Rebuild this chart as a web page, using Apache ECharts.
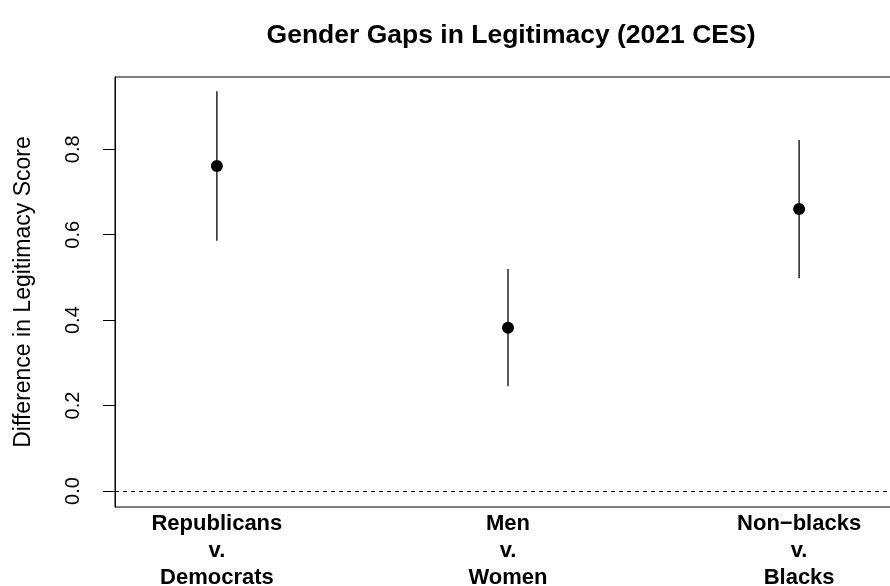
<!DOCTYPE html>
<html>
<head>
<meta charset="utf-8">
<script src="https://cdn.jsdelivr.net/npm/echarts@6/dist/echarts.min.js"></script>
<style>
  html, body { margin: 0; padding: 0; background: #fff; }
  #chart { width: 890px; height: 586px; }
</style>
</head>
<body>
<div id="chart"></div>
<script>
// Group comparisons and their estimated gaps with 95% intervals
const groups = ['Republicans\nv.\nDemocrats', 'Men\nv.\nWomen', 'Non\u2212blacks\nv.\nBlacks'];
const positions = [1, 2, 3];
const estimates = [0.761, 0.382, 0.660];
const lower = [0.586, 0.245, 0.498];
const upper = [0.936, 0.520, 0.822];
const yTicks = [0, 0.2, 0.4, 0.6, 0.8];

const FONT = '"Liberation Sans", Arial, Helvetica, sans-serif';

const pointData = positions.map((x, i) => [x, estimates[i]]);
const barData = positions.map((x, i) => [x, lower[i], upper[i]]);

const chart = echarts.init(document.getElementById('chart'), null, { renderer: 'canvas' });

chart.setOption({
  backgroundColor: '#ffffff',
  animation: false,
  title: {
    text: 'Gender Gaps in Legitimacy (2021 CES)',
    left: 506,
    top: 17,
    textAlign: 'center',
    textStyle: { fontFamily: FONT, fontWeight: 'bold', fontSize: 26.5, color: '#000' }
  },
  grid: {
    left: 115,
    top: 77,
    width: 786,
    height: 430,
    outerBoundsMode: 'none',
    containLabel: false,
    show: true,
    borderColor: '#000',
    borderWidth: 1,
    backgroundColor: 'transparent'
  },
  xAxis: {
    type: 'value',
    min: 0.65,
    max: 3.35,
    splitLine: { show: false },
    axisLine: { show: false },
    axisTick: { show: false },
    axisLabel: {
      customValues: positions,
      formatter: (v) => groups[positions.indexOf(Math.round(v))] || '',
      fontFamily: FONT,
      fontWeight: 'bold',
      fontSize: 22,
      lineHeight: 27,
      color: '#000',
      margin: 3
    }
  },
  yAxis: {
    type: 'value',
    min: -0.0375,
    max: 0.9693,
    name: 'Difference in Legitimacy Score',
    nameLocation: 'middle',
    nameRotate: 90,
    nameGap: 80,
    nameTextStyle: { fontFamily: FONT, fontSize: 23, color: '#000' },
    splitLine: { show: false },
    axisLine: { show: true, lineStyle: { color: '#000', width: 1 } },
    axisTick: {
      show: true,
      customValues: yTicks,
      length: 12,
      lineStyle: { color: '#000', width: 1 }
    },
    axisLabel: {
      customValues: yTicks,
      rotate: 90,
      formatter: (v) => v.toFixed(1),
      fontFamily: FONT,
      fontSize: 20,
      color: '#000',
      margin: 32
    }
  },
  series: [
    {
      type: 'custom',
      name: 'interval',
      data: barData,
      encode: { x: 0, y: [1, 2] },
      renderItem: (params, api) => {
        const lo = api.coord([api.value(0), api.value(1)]);
        const hi = api.coord([api.value(0), api.value(2)]);
        return {
          type: 'line',
          shape: { x1: lo[0], y1: lo[1], x2: hi[0], y2: hi[1] },
          style: { stroke: '#000', lineWidth: 1.3 }
        };
      },
      z: 2
    },
    {
      type: 'scatter',
      name: 'estimate',
      data: pointData,
      symbol: 'circle',
      symbolSize: 12,
      itemStyle: { color: '#000', opacity: 1 },
      z: 3,
      markLine: {
        silent: true,
        symbol: 'none',
        label: { show: false },
        lineStyle: { color: '#000', type: [4, 4], width: 1, opacity: 1 },
        data: [{ yAxis: 0 }]
      }
    }
  ]
});
</script>
</body>
</html>
